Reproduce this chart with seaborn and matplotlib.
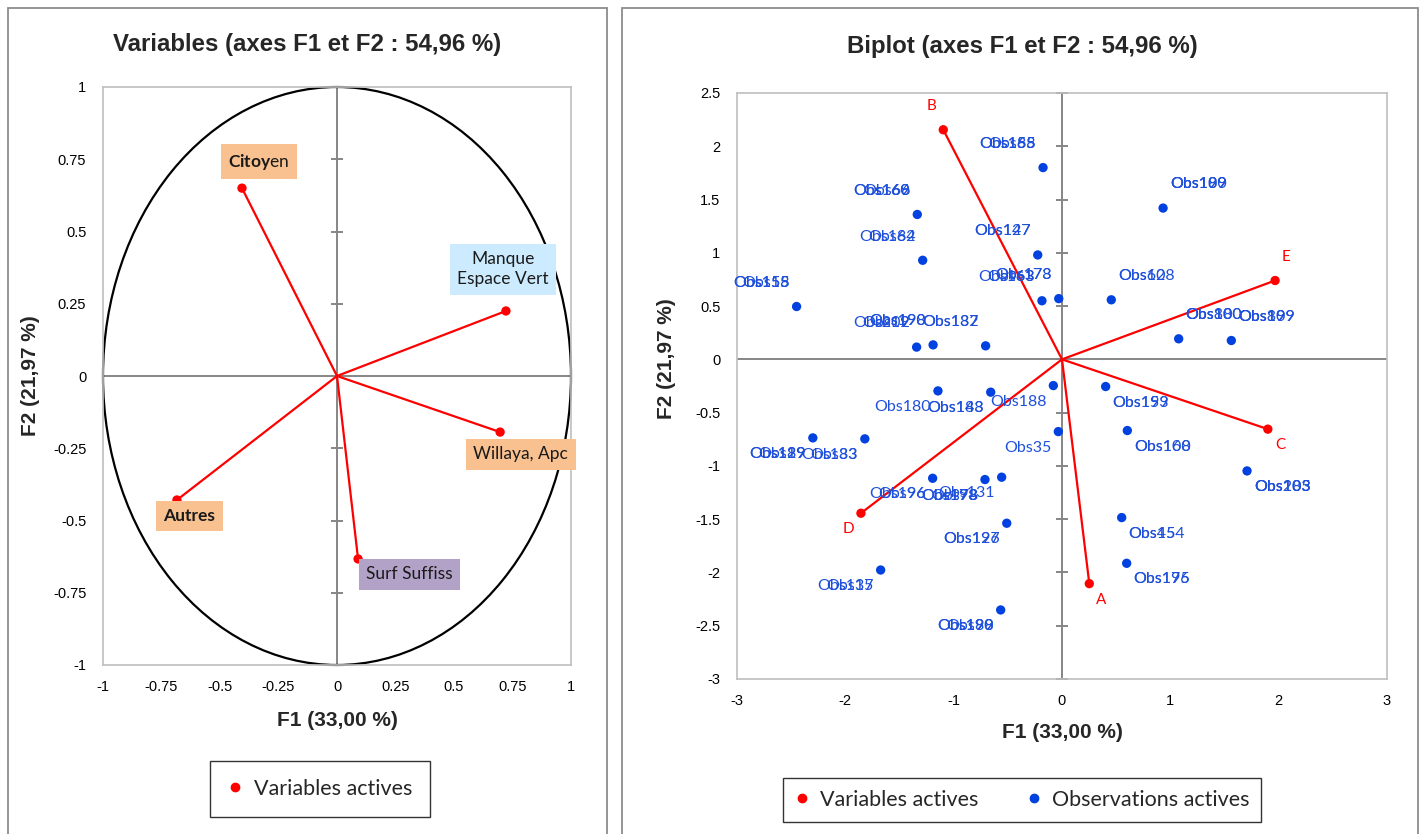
import numpy as np
import pandas as pd
import matplotlib
matplotlib.use('Agg')
import matplotlib.pyplot as plt
import seaborn as sns
from matplotlib.lines import Line2D
from matplotlib.patches import Circle, Rectangle

# --- données : cercle des corrélations ---
var_names = ['$\\mathbf{Citoy}$en', 'Manque\nEspace Vert', 'Willaya, Apc', 'Autres', 'Surf Suffiss']
var_f1 = [-0.406, 0.722, 0.697, -0.684, 0.090]
var_f2 = [0.650, 0.225, -0.194, -0.429, -0.633]

# --- données : biplot ---
bi_var_names = ['A', 'B', 'C', 'D', 'E']
bi_var_f1 = [0.252, -1.096, 1.900, -1.856, 1.967]
bi_var_f2 = [-2.105, 2.155, -0.655, -1.444, 0.740]

obs_f1 = [-0.175, -1.336, -1.286, -2.450, -1.342, -1.190, -0.705, -0.224, -0.185, -0.030,
          0.933, 0.455, 1.077, 1.563,
          -1.145, -0.658, -0.080, -0.034, -2.300, -1.820, -1.194, -0.711, -0.557, -0.510,
          -1.674, -0.566,
          0.403, 0.603, 1.708, 0.551, 0.597]
obs_f2 = [1.800, 1.360, 0.930, 0.496, 0.115, 0.136, 0.127, 0.980, 0.550, 0.570,
          1.420, 0.559, 0.193, 0.177,
          -0.296, -0.308, -0.246, -0.678, -0.737, -0.746, -1.116, -1.128, -1.106, -1.538,
          -1.977, -2.352,
          -0.255, -0.668, -1.047, -1.485, -1.914]
obs_labels = [['Obs65', 'Obs155', 'Obs188'], ['Obs66', 'Obs160', 'Obs169'], ['Obs62', 'Obs184'],
              ['Obs15', 'Obs155', 'Obs158'], ['Obs19', 'Obs202'], ['Obs190', 'Obs198'],
              ['Obs137', 'Obs182'], ['Obs127', 'Obs147'], ['Obs63', 'Obs163'], ['Obs173', 'Obs178'],
              ['Obs100', 'Obs189', 'Obs199'], ['Obs60', 'Obs128'], ['Obs80', 'Obs100', 'Obs180'],
              ['Obs89', 'Obs109', 'Obs199'],
              ['Obs180'], ['Obs148', 'Obs183'], ['Obs188'], ['Obs35'], ['Obs19', 'Obs129', 'Obs189'],
              ['Obs33', 'Obs183'], ['Obs96', 'Obs196'], ['Obs78', 'Obs178', 'Obs198'], ['Obs131'],
              ['Obs126', 'Obs197'], ['Obs15', 'Obs137'], ['Obs90', 'Obs189', 'Obs198'],
              ['Obs153', 'Obs199'], ['Obs100', 'Obs168'], ['Obs105', 'Obs183', 'Obs203'],
              ['Obs45', 'Obs154'], ['Obs176', 'Obs195']]

left_ticks = [-1, -0.75, -0.5, -0.25, 0, 0.25, 0.5, 0.75, 1]
right_xticks = [-3, -2, -1, 0, 1, 2, 3]
right_yticks = [-3, -2.5, -2, -1.5, -1, -0.5, 0, 0.5, 1, 1.5, 2, 2.5]

# styles
RED = '#FF0000'
BLUE = '#0041E0'
BLUE_TXT = '#1F50DC'
GRID = '#868686'
BORDER = '#BFBFBF'
box_colors = ['#F8C18F', '#CDEBFF', '#F8C18F', '#F8C18F', '#B2A2C7']
box_weights = ['normal', 'normal', 'normal', 'bold', 'normal']
box_offsets = [(12, 19), (-2, 30), (15, -16), (9, -11.5), (37, -11)]

sns.set_theme(style='white')
plt.rcParams['font.family'] = ['Liberation Sans', 'DejaVu Sans']
plt.rcParams['mathtext.fontset'] = 'custom'
plt.rcParams['mathtext.rm'] = 'Lato'
plt.rcParams['mathtext.bf'] = 'Lato:bold'

fig = plt.figure(figsize=(14.26, 8.34), dpi=100)
fig.patch.set_facecolor('white')

# cadres des deux graphiques
for x0, w in [(8, 599), (622, 796)]:
    fig.patches.append(Rectangle((x0 / 1426, -0.05), w / 1426, 1.05 - 8 / 834,
                                 transform=fig.transFigure, fill=False,
                                 edgecolor='#8C8C8C', linewidth=1.3))

ax1 = fig.add_axes([103 / 1426, 169 / 834, 468 / 1426, 578 / 834])
ax2 = fig.add_axes([737 / 1426, 155 / 834, 650 / 1426, 586 / 834])


def style_axes(ax, xticks, yticks):
    ax.set_xlim(xticks[0], xticks[-1])
    ax.set_ylim(yticks[0], yticks[-1])
    ax.set_xticks(xticks)
    ax.set_yticks(yticks)
    ax.set_xticklabels(['%g' % t for t in xticks])
    ax.set_yticklabels(['%g' % t for t in yticks])
    ax.tick_params(axis='both', length=0, labelsize=10.5, colors='black')
    ax.tick_params(axis='x', pad=11)
    ax.tick_params(axis='y', pad=12)
    for s in ax.spines.values():
        s.set_color(BORDER)
        s.set_linewidth(1.2)
    ax.axhline(0, color=GRID, lw=1.4, zorder=1)
    ax.axvline(0, color=GRID, lw=1.4, zorder=1)
    ax.plot(np.zeros(len(yticks)), yticks, linestyle='none', marker='_',
            markersize=8.5, markeredgewidth=1.4, color=GRID, zorder=1, clip_on=False)


# ---------- graphique des variables ----------
style_axes(ax1, left_ticks, left_ticks)
ax1.add_patch(Circle((0, 0), 1, fill=False, edgecolor='black', linewidth=1.6,
                     zorder=2, clip_on=False))
for x, y in zip(var_f1, var_f2):
    ax1.plot([0, x], [0, y], color=RED, lw=1.6, zorder=3)
df_var = pd.DataFrame({'F1': var_f1, 'F2': var_f2})
sns.scatterplot(data=df_var, x='F1', y='F2', ax=ax1, color=RED, s=45,
                edgecolor='none', zorder=4, legend=False)
for name, x, y, c, w, off in zip(var_names, var_f1, var_f2, box_colors, box_weights, box_offsets):
    ax1.annotate(name, (x, y), xytext=off, textcoords='offset points',
                 ha='center', va='center', fontsize=12.5, family='Lato',
                 fontweight=w, color='#1A1A1A', zorder=5, linespacing=1.3,
                 bbox=dict(boxstyle='square,pad=0.42', facecolor=c, edgecolor='none'))
ax1.set_xlabel('')
ax1.set_ylabel('')

# ---------- biplot ----------
style_axes(ax2, right_xticks, right_yticks)
for x, y in zip(bi_var_f1, bi_var_f2):
    ax2.plot([0, x], [0, y], color=RED, lw=1.6, zorder=3)
df_obs = pd.DataFrame({'F1': obs_f1, 'F2': obs_f2})
sns.scatterplot(data=df_obs, x='F1', y='F2', ax=ax2, color=BLUE, s=45,
                edgecolor='none', zorder=4, legend=False)
df_bv = pd.DataFrame({'F1': bi_var_f1, 'F2': bi_var_f2})
sns.scatterplot(data=df_bv, x='F1', y='F2', ax=ax2, color=RED, s=45,
                edgecolor='none', zorder=4, legend=False)


def point_label(ax, text, x, y, color, size):
    ha = 'left' if x > 0 else 'right'
    dx = 5 if x > 0 else -5
    dy = 17 if y > 0 else -11.5
    ax.annotate(text, (x, y), xytext=(dx, dy), textcoords='offset points',
                ha=ha, va='center', fontsize=size, family='Lato', color=color, zorder=5)


for names, x, y in zip(obs_labels, obs_f1, obs_f2):
    for n in names:
        point_label(ax2, n, x, y, BLUE_TXT, 11.5)
for n, x, y in zip(bi_var_names, bi_var_f1, bi_var_f2):
    point_label(ax2, n, x, y, RED, 11)
ax2.set_xlabel('')
ax2.set_ylabel('')

# ---------- titres et libellés ----------
fig.text(307 / 1426, 1 - 44 / 834, 'Variables (axes F1 et F2 : 54,96 %)',
         ha='center', va='center', fontsize=17.3, fontweight='bold')
fig.text(1022 / 1426, 1 - 46 / 834, 'Biplot (axes F1 et F2 : 54,96 %)',
         ha='center', va='center', fontsize=17.3, fontweight='bold')
fig.text(337 / 1426, 1 - 720 / 834, 'F1 (33,00 %)', ha='center', va='center',
         fontsize=15, fontweight='bold')
fig.text(1062 / 1426, 1 - 733 / 834, 'F1 (33,00 %)', ha='center', va='center',
         fontsize=15, fontweight='bold')
fig.text(30 / 1426, 1 - 376 / 834, 'F2 (21,97 %)', ha='center', va='center',
         rotation=90, fontsize=15, fontweight='bold')
fig.text(667 / 1426, 1 - 359 / 834, 'F2 (21,97 %)', ha='center', va='center',
         rotation=90, fontsize=15, fontweight='bold')

# ---------- légendes ----------
h_var = Line2D([], [], linestyle='none', marker='o', markersize=6, color=RED)
h_obs = Line2D([], [], linestyle='none', marker='o', markersize=6, color=BLUE)
leg_kw = dict(loc='center', frameon=True, fancybox=False, edgecolor='black',
              prop={'family': 'Lato', 'size': 15.5}, handlelength=0.7, handletextpad=0.5)
leg1 = fig.legend([h_var], ['Variables actives'], bbox_to_anchor=(320 / 1426, 1 - 789 / 834),
                  borderpad=0.85, **leg_kw)
leg1.get_frame().set_linewidth(1.0)
leg2 = fig.legend([h_var, h_obs], ['Variables actives', 'Observations actives'], ncol=2,
                  bbox_to_anchor=(1022 / 1426, 1 - 800 / 834), borderpad=0.55,
                  columnspacing=2.2, **leg_kw)
leg2.get_frame().set_linewidth(1.0)

fig.savefig('out.png', dpi=100)
